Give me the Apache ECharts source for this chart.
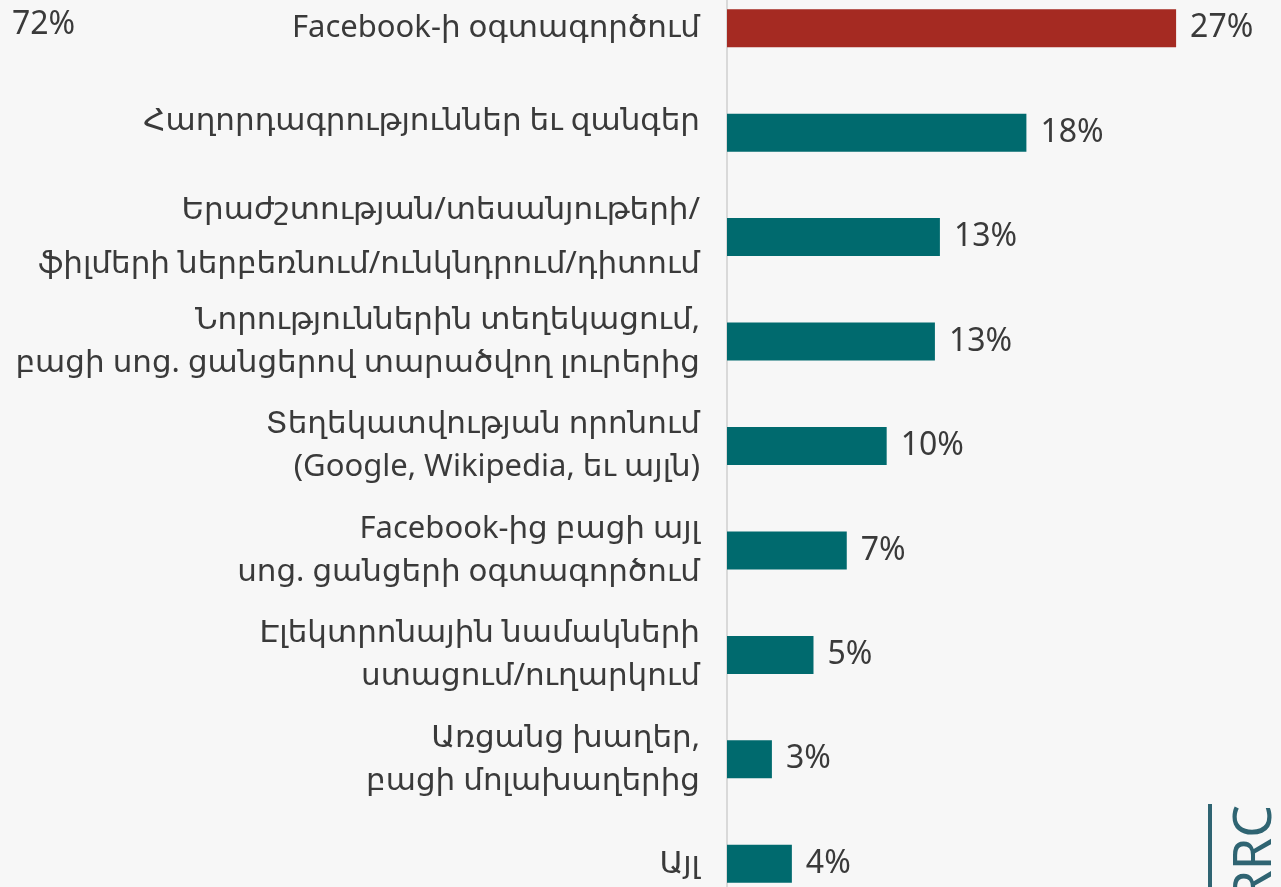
<!DOCTYPE html>
<html>
<head>
<meta charset="utf-8">
<script src="https://cdn.jsdelivr.net/npm/echarts@6/dist/echarts.min.js"></script>
<style>
    html, body { margin: 0; padding: 0; background: #f7f7f7; overflow: hidden; }
    #chart { position: absolute; left: 0; top: -24px; width: 1281px; height: 940px; }
</style>
</head>
<body>
<div id="chart"></div>
<script>
    // categories, top to bottom
    var categories = [
        'Facebook-ի օգտագործում',
        'Հաղորդագրություններ եւ զանգեր',
        'Երաժշտության/տեսանյութերի/\nֆիլմերի ներբեռնում/ունկնդրում/դիտում',
        'Նորություններին տեղեկացում,\nբացի սոց. ցանցերով տարածվող լուրերից',
        'Տեղեկատվության որոնում\n(Google, Wikipedia, եւ այլն)',
        'Facebook-ից բացի այլ\nսոց. ցանցերի օգտագործում',
        'Էլեկտրոնային նամակների\nստացում/ուղարկում',
        'Առցանց խաղեր,\nբացի մոլախաղերից',
        'Այլ'
    ];
    var values = [27, 18, 12.8, 12.5, 9.6, 7.2, 5.2, 2.7, 3.9];
    var valueLabels = ['27%', '18%', '13%', '13%', '10%', '7%', '5%', '3%', '4%'];
    var cornerNote = '72%';
    var brand = 'CRRC';

    var font = "'Noto Sans', 'DejaVu Sans', sans-serif";
    var textColor = '#3a3a3a';
    var shift = 24; // chart div is moved up by this much

    var chart = echarts.init(document.getElementById('chart'));
    var option = {
        backgroundColor: '#f7f7f7',
        animation: false,
        grid: {
            left: 727,
            right: 55,
            top: 0,
            bottom: 0,
            outerBoundsMode: 'none'
        },
        xAxis: {
            type: 'value',
            min: 0,
            max: 30,
            show: false
        },
        yAxis: {
            type: 'category',
            inverse: true,
            data: categories,
            axisTick: { show: false },
            axisLine: {
                show: true,
                lineStyle: { color: '#d9d9d9', width: 2 }
            },
            axisLabel: {
                margin: 27,
                fontFamily: font,
                fontSize: 31,
                color: textColor,
                align: 'right',
                lineHeight: 43,
                formatter: function (val, idx) {
                    if (idx === 2) return '{w|' + val + '}';
                    if (idx === 1) return '{u|' + val + '}';
                    return '{n|' + val + '}';
                },
                rich: {
                    n: { fontFamily: font, fontSize: 31, color: textColor, lineHeight: 43 },
                    u: { fontFamily: font, fontSize: 31, color: textColor, lineHeight: 43, padding: [0, 0, 22, 0] },
                    w: { fontFamily: font, fontSize: 31, color: textColor, lineHeight: 54 }
                }
            }
        },
        series: [{
            type: 'bar',
            data: values,
            barWidth: 38,
            itemStyle: {
                color: function (p) { return p.dataIndex === 0 ? '#a52a22' : '#006a6e'; }
            },
            label: {
                show: true,
                position: 'right',
                distance: 14,
                fontFamily: font,
                fontSize: 32,
                color: textColor,
                formatter: function (p) { return valueLabels[p.dataIndex]; }
            }
        }],
        graphic: [
            {
                type: 'text',
                x: 12,
                y: 25 + shift,
                style: { text: cornerNote, fontFamily: font, fontSize: 32, fill: textColor, verticalAlign: 'middle' }
            },
            {
                type: 'rect',
                shape: { x: 1208, y: 804 + shift, width: 4, height: 90 },
                style: { fill: '#2f6472' }
            },
            {
                type: 'text',
                x: 1256,
                y: 805 + shift,
                rotation: Math.PI / 2,
                style: {
                    text: brand,
                    fontFamily: font,
                    fontSize: 52,
                    fill: '#2f6472',
                    align: 'right',
                    verticalAlign: 'middle'
                }
            }
        ]
    };
    chart.setOption(option);
</script>
</body>
</html>
